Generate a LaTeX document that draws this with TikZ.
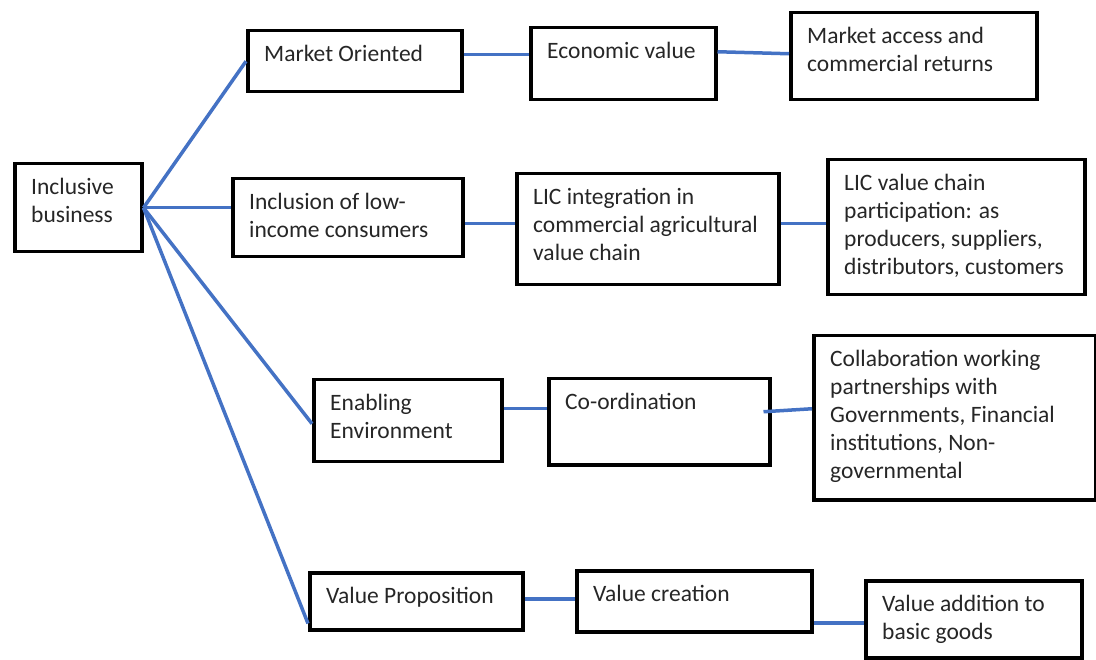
\documentclass[tikz,border=0pt]{standalone}
\usepackage{fontspec}
\setmainfont{Carlito}
\usetikzlibrary{positioning}

\definecolor{linkblue}{HTML}{4472C4}

\begin{document}
\begin{tikzpicture}[
    x=1pt, y=-1pt,
    box/.style={draw=black, line width=3.5pt, anchor=north west, inner sep=0pt},
    txt/.style={anchor=north west, xshift=18pt, yshift=-16pt, inner sep=0pt, align=left, text=black!85, font=\fontsize{23.5}{28}\selectfont},
    link/.style={draw=linkblue, line width=3.5pt}
]
\useasboundingbox (0,0) rectangle (1096,660);

% Root
\node[box, minimum width=127pt, minimum height=88pt, label={[txt]north west:Inclusive\\business}] (inc) at (13,162) {};

% Row 1: market oriented
\node[box, minimum width=214pt, minimum height=61pt, label={[txt]north west:Market Oriented}] (mo) at (246,29) {};
\node[box, minimum width=185pt, minimum height=72pt, label={[txt]north west:Economic value}] (econ) at (529,26) {};
\node[box, minimum width=246pt, minimum height=87pt, label={[txt]north west:Market access and\\commercial returns}] (mkt) at (789,11) {};

% Row 2: low-income consumers
\node[box, minimum width=230pt, minimum height=78pt, label={[txt]north west:Inclusion of low-\\income consumers}] (lic) at (231,177) {};
\node[box, minimum width=262pt, minimum height=111pt, label={[txt]north west:LIC integration in\\commercial agricultural\\value chain}] (licint) at (515,172) {};
\node[box, minimum width=257pt, minimum height=135pt, label={[txt]north west:LIC value chain\\participation: as\\producers, suppliers,\\distributors, customers}] (licval) at (826,158) {};

% Row 3: enabling environment
\node[box, minimum width=188pt, minimum height=82pt, label={[txt]north west:Enabling\\Environment}] (env) at (312,378) {};
\node[box, minimum width=221pt, minimum height=86pt, label={[txt]north west:Co-ordination}] (coord) at (547,377) {};
\node[box, minimum width=282pt, minimum height=164pt, label={[txt]north west:Collaboration working\\partnerships with\\Governments, Financial\\institutions, Non-\\governmental}] (collab) at (812,334) {};

% Row 4: value proposition
\node[box, minimum width=213pt, minimum height=57pt, label={[txt]north west:Value Proposition}] (vp) at (308,571) {};
\node[box, minimum width=235pt, minimum height=61pt, label={[txt]north west:Value creation}] (vc) at (575,569) {};
\node[box, minimum width=216pt, minimum height=77pt, label={[txt]north west:Value addition to\\basic goods}] (va) at (864,579) {};

% Fan out from the root
\draw[link] (inc.east) -- (mo.west);
\draw[link] (inc.east) -- (inc.east -| lic.west);
\draw[link] (inc.east) -- ([yshift=-3pt]env.west);
\draw[link] (inc.east) -- ([yshift=8pt]vp.south west);

% Links along each row
\draw[link] ([yshift=6.5pt]mo.east) -- ([yshift=9pt]econ.west);
\draw[link] ([yshift=12pt]econ.east) -- ([yshift=2.5pt]mkt.west);
\draw[link] ([yshift=-6pt]lic.east) -- ([yshift=5.5pt]licint.west);
\draw[link] ([yshift=5.5pt]licint.east) -- ([yshift=3.5pt]licval.west);
\draw[link] ([yshift=12pt]env.east) -- ([yshift=13pt]coord.west);
\draw[link] ([xshift=-8pt, yshift=10pt]coord.east) -- ([yshift=9pt]collab.west);
\draw[link] ([yshift=2.5pt]vp.east) -- ([yshift=2.5pt]vc.west);
\draw[link] ([yshift=-21.5pt]vc.east) -- ([yshift=-3.5pt]va.west);

\end{tikzpicture}
\end{document}
